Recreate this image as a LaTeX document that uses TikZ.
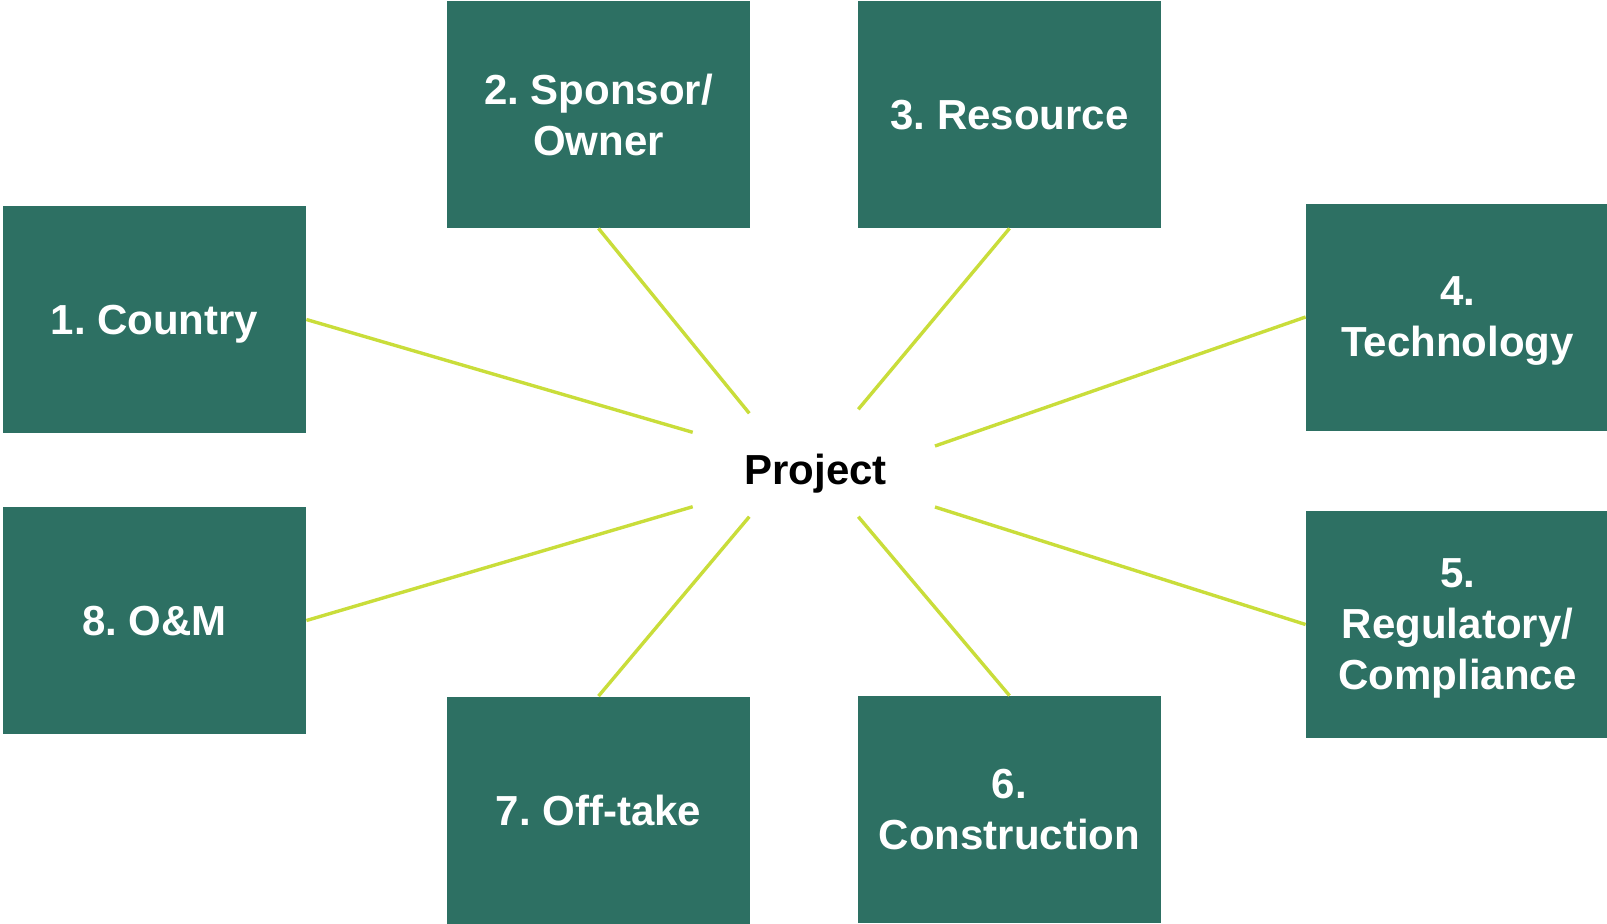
\documentclass[tikz,border=0pt]{standalone}
\usepackage{fontspec}
\setmainfont{Liberation Sans}
\frenchspacing

\definecolor{boxgreen}{RGB}{45,112,99}
\definecolor{linelime}{RGB}{201,221,58}

\tikzset{
	area/.style={rectangle, fill=boxgreen, text=white, inner sep=0pt,
		minimum width=151.5pt, minimum height=113.5pt, align=center,
		text depth=0pt, font=\fontsize{21}{25.5}\selectfont\bfseries},
	spoke/.style={draw=linelime, line width=1.7pt}
}

\begin{document}
\begin{tikzpicture}[x=0.5pt,y=-0.5pt]
\useasboundingbox (0,0) rectangle (1607,923);
% the eight risk areas
\node[area] (country) at (154.5,319.5) {1. Country};
\node[area] (sponsor) at (598.5,114.5) {2. Sponsor/\\Owner};
\node[area] (resource) at (1009.5,114.5) {3. Resource};
\node[area] (technology) at (1457.5,317) {4.\\Technology};
\node[area] (regulatory) at (1457.5,624.5) {5.\\Regulatory/\\Compliance};
\node[area] (construction) at (1009.5,809.5) {6.\\Construction};
\node[area] (offtake) at (598.5,810) {7. Off-take};
\node[area] (om) at (154.5,620.5) {8. O\&M};
% centre
\node[text depth=0pt, font=\fontsize{21}{25.5}\selectfont\bfseries] (project) at (815.5,469) {Project};
\coordinate (p1) at (692.7,432.3);
\coordinate (p2) at (749.3,413.3);
\coordinate (p3) at (858.3,409.3);
\coordinate (p4) at (935,446);
\coordinate (p5) at (935,507);
\coordinate (p6) at (858.3,516.7);
\coordinate (p7) at (749.3,516.7);
\coordinate (p8) at (692.7,506.7);
% spokes
\draw[spoke] (country.east)--(p1);
\draw[spoke] (sponsor.south)--(p2);
\draw[spoke] (resource.south)--(p3);
\draw[spoke] (technology.west)--(p4);
\draw[spoke] (regulatory.west)--(p5);
\draw[spoke] (construction.north)--(p6);
\draw[spoke] (offtake.north)--(p7);
\draw[spoke] (om.east)--(p8);
\end{tikzpicture}
\end{document}
